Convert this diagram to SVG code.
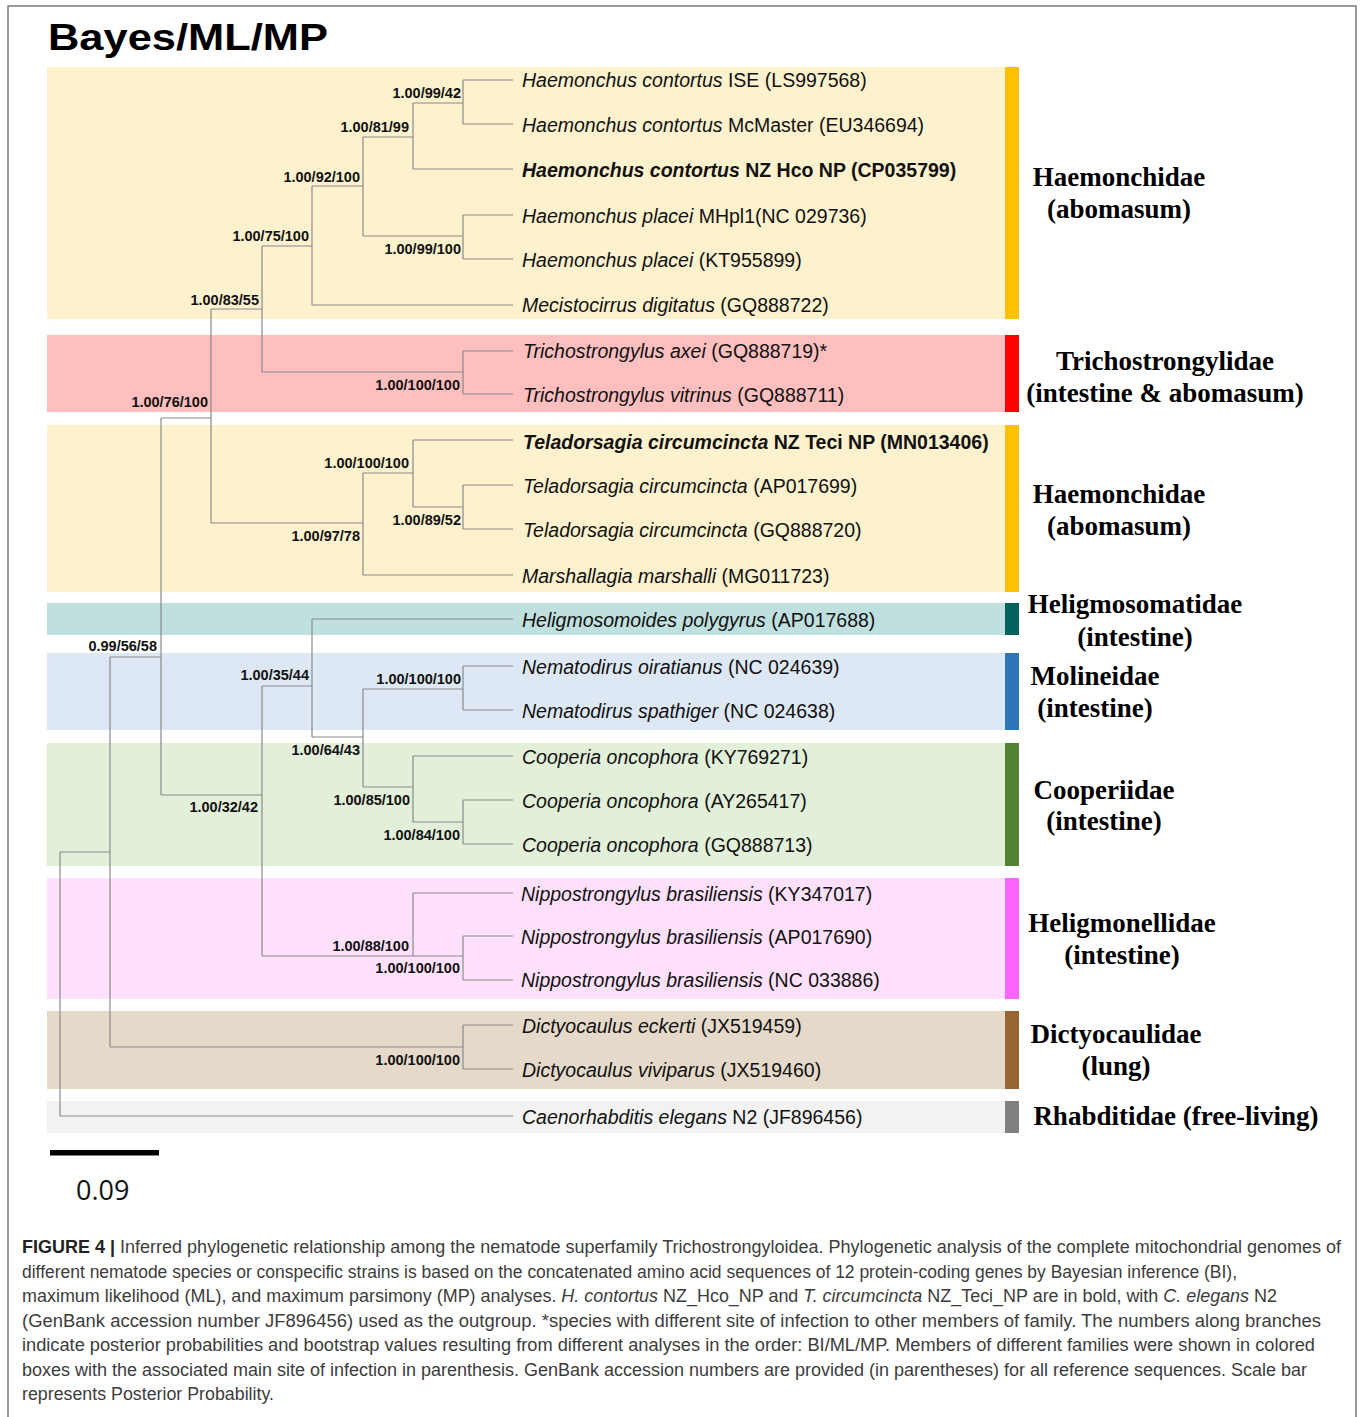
<svg xmlns="http://www.w3.org/2000/svg" width="1360" height="1417" viewBox="0 0 1360 1417">
<style>
.box{stroke:none}
.tree{fill:none;stroke:#8a8a8a;stroke-width:1.2}
.tax{font-family:"Liberation Sans",Arial,sans-serif;font-size:19.5px;fill:#111}
.it{font-style:italic}
.bd{font-weight:bold}
.nl{font-family:"Liberation Sans",Arial,sans-serif;font-size:14.5px;font-weight:bold;fill:#111;text-anchor:end}
.fam{font-family:"Liberation Serif","Times New Roman",serif;font-size:27px;font-weight:bold;fill:#000;text-anchor:middle}
.cap{font-family:"Liberation Sans",Arial,sans-serif;font-size:17.5px;fill:#3c3c3c}
</style>
<rect x="0" y="0" width="1360" height="1417" fill="#ffffff"/>
<rect x="8" y="6" width="1348" height="1430" fill="none" stroke="#7a7a7a" stroke-width="1.5"/>
<text x="48" y="50" font-family="Liberation Sans,Arial,sans-serif" font-size="37" font-weight="bold" fill="#000" textLength="280" lengthAdjust="spacingAndGlyphs">Bayes/ML/MP</text>

<g id="haemonchidae-1">
<rect class="box" x="47" y="67" width="958" height="252" fill="#FEF1CD"/>
<rect class="box" x="1005" y="67" width="14" height="252" fill="#FFC000"/>
<text class="fam" x="1119" y="186">Haemonchidae</text>
<text class="fam" x="1119" y="218">(abomasum)</text>
</g>
<g id="trichostrongylidae">
<rect class="box" x="47" y="335" width="958" height="77" fill="#FFBFBF"/>
<rect class="box" x="1005" y="335" width="14" height="77" fill="#FF0000"/>
<text class="fam" x="1165" y="370">Trichostrongylidae</text>
<text class="fam" x="1165" y="402">(intestine &amp; abomasum)</text>
</g>
<g id="haemonchidae-2">
<rect class="box" x="47" y="425" width="958" height="167" fill="#FEF1CD"/>
<rect class="box" x="1005" y="425" width="14" height="167" fill="#FFC000"/>
<text class="fam" x="1119" y="503">Haemonchidae</text>
<text class="fam" x="1119" y="535">(abomasum)</text>
</g>
<g id="heligmosomatidae">
<rect class="box" x="47" y="603" width="958" height="32" fill="#BFE0DE"/>
<rect class="box" x="1005" y="603" width="14" height="32" fill="#00625A"/>
<text class="fam" x="1135" y="613">Heligmosomatidae</text>
<text class="fam" x="1135" y="646">(intestine)</text>
</g>
<g id="molineidae">
<rect class="box" x="47" y="653" width="958" height="77" fill="#DDE8F4"/>
<rect class="box" x="1005" y="653" width="14" height="77" fill="#2E75B6"/>
<text class="fam" x="1095" y="685">Molineidae</text>
<text class="fam" x="1095" y="717">(intestine)</text>
</g>
<g id="cooperiidae">
<rect class="box" x="47" y="743" width="958" height="123" fill="#E2EFD9"/>
<rect class="box" x="1005" y="743" width="14" height="123" fill="#548235"/>
<text class="fam" x="1104" y="799">Cooperiidae</text>
<text class="fam" x="1104" y="830">(intestine)</text>
</g>
<g id="heligmonellidae">
<rect class="box" x="47" y="878" width="958" height="121" fill="#FFE1FD"/>
<rect class="box" x="1005" y="878" width="14" height="121" fill="#FF66FF"/>
<text class="fam" x="1122" y="932">Heligmonellidae</text>
<text class="fam" x="1122" y="964">(intestine)</text>
</g>
<g id="dictyocaulidae">
<rect class="box" x="47" y="1011" width="958" height="78" fill="#E5D9CA"/>
<rect class="box" x="1005" y="1011" width="14" height="78" fill="#996633"/>
<text class="fam" x="1116" y="1043">Dictyocaulidae</text>
<text class="fam" x="1116" y="1075">(lung)</text>
</g>
<g id="rhabditidae">
<rect class="box" x="47" y="1101" width="958" height="32" fill="#F2F2F2"/>
<rect class="box" x="1005" y="1101" width="14" height="32" fill="#808080"/>
<text class="fam" x="1176" y="1125">Rhabditidae (free-living)</text>
</g>

<g id="connectors" class="tree">
<path d="M463 80H513M463 124H513M413 169H513M463 215H513M463 259H513M312 305H513M463 351H513M463 394H513M413 440H513M463 485H513M463 529H513M363 575H513M312 619H513M463 666H513M463 710H513M413 756H513M463 800H513M463 844H513M413 893H513M463 936H513M463 980H513M463 1025H513M463 1069H513M60 1116H513"/>
<path d="M463 80V124M413 103H463M413 103V169M363 137H413M463 215V259M363 236H463M363 137V236M312 186H363M312 186V305M262 246H312M463 351V394M262 372H463M262 246V372M211 309H262"/>
<path d="M463 485V529M413 507H463M413 440V507M363 473H413M363 473V575M211 523H363M211 309V523M161 418H211"/>
<path d="M463 666V710M363 689H463M463 800V844M413 822H463M413 756V822M363 787H413M363 689V787M312 737H363M312 619V737M262 686H312"/>
<path d="M463 936V980M262 956H463M413 893V956M262 686V956M161 795H262M161 418V795M110 657H161"/>
<path d="M463 1025V1069M110 1047H463M110 657V1047M60 852H110M60 852V1116"/>
</g>

<g id="node-labels">
<text class="nl" x="461" y="98">1.00/99/42</text>
<text class="nl" x="409" y="132">1.00/81/99</text>
<text class="nl" x="360" y="182">1.00/92/100</text>
<text class="nl" x="461" y="254">1.00/99/100</text>
<text class="nl" x="309" y="241">1.00/75/100</text>
<text class="nl" x="259" y="305">1.00/83/55</text>
<text class="nl" x="460" y="390">1.00/100/100</text>
<text class="nl" x="208" y="407">1.00/76/100</text>
<text class="nl" x="409" y="468">1.00/100/100</text>
<text class="nl" x="461" y="525">1.00/89/52</text>
<text class="nl" x="360" y="541">1.00/97/78</text>
<text class="nl" x="157" y="651">0.99/56/58</text>
<text class="nl" x="309" y="680">1.00/35/44</text>
<text class="nl" x="461" y="684">1.00/100/100</text>
<text class="nl" x="360" y="755">1.00/64/43</text>
<text class="nl" x="258" y="812">1.00/32/42</text>
<text class="nl" x="410" y="805">1.00/85/100</text>
<text class="nl" x="460" y="840">1.00/84/100</text>
<text class="nl" x="409" y="951">1.00/88/100</text>
<text class="nl" x="460" y="973">1.00/100/100</text>
<text class="nl" x="460" y="1065">1.00/100/100</text>
</g>

<g id="taxa">
<text id="t1" class="tax" x="522" y="87"><tspan class="it">Haemonchus contortus</tspan> ISE (LS997568)</text>
<text id="t2" class="tax" x="522" y="131.5"><tspan class="it">Haemonchus contortus</tspan> McMaster (EU346694)</text>
<text id="t3" class="tax bd" x="522" y="176.5"><tspan class="it">Haemonchus contortus</tspan> NZ Hco NP (CP035799)</text>
<text id="t4" class="tax" x="522" y="222.5"><tspan class="it">Haemonchus placei</tspan> MHpl1(NC 029736)</text>
<text id="t5" class="tax" x="522" y="266.5"><tspan class="it">Haemonchus placei</tspan> (KT955899)</text>
<text id="t6" class="tax" x="522" y="312"><tspan class="it">Mecistocirrus digitatus</tspan> (GQ888722)</text>
<text id="t7" class="tax" x="523" y="358"><tspan class="it">Trichostrongylus axei</tspan> (GQ888719)*</text>
<text id="t8" class="tax" x="523" y="402"><tspan class="it">Trichostrongylus vitrinus</tspan> (GQ888711)</text>
<text id="t9" class="tax bd" x="523" y="449"><tspan class="it">Teladorsagia circumcincta</tspan> NZ Teci NP (MN013406)</text>
<text id="t10" class="tax" x="523" y="493"><tspan class="it">Teladorsagia circumcincta</tspan> (AP017699)</text>
<text id="t11" class="tax" x="523" y="537"><tspan class="it">Teladorsagia circumcincta</tspan> (GQ888720)</text>
<text id="t12" class="tax" x="522" y="582.5"><tspan class="it">Marshallagia marshalli</tspan> (MG011723)</text>
<text id="t13" class="tax" x="522" y="627"><tspan class="it">Heligmosomoides polygyrus</tspan> (AP017688)</text>
<text id="t14" class="tax" x="522" y="674"><tspan class="it">Nematodirus oiratianus</tspan> (NC 024639)</text>
<text id="t15" class="tax" x="522" y="717.5"><tspan class="it">Nematodirus spathiger</tspan> (NC 024638)</text>
<text id="t16" class="tax" x="522" y="763.5"><tspan class="it">Cooperia oncophora</tspan> (KY769271)</text>
<text id="t17" class="tax" x="522" y="807.5"><tspan class="it">Cooperia oncophora</tspan> (AY265417)</text>
<text id="t18" class="tax" x="522" y="852"><tspan class="it">Cooperia oncophora</tspan> (GQ888713)</text>
<text id="t19" class="tax" x="521" y="900.5"><tspan class="it">Nippostrongylus brasiliensis</tspan> (KY347017)</text>
<text id="t20" class="tax" x="521" y="943.5"><tspan class="it">Nippostrongylus brasiliensis</tspan> (AP017690)</text>
<text id="t21" class="tax" x="521" y="987"><tspan class="it">Nippostrongylus brasiliensis</tspan> (NC 033886)</text>
<text id="t22" class="tax" x="522" y="1032.5"><tspan class="it">Dictyocaulus eckerti</tspan> (JX519459)</text>
<text id="t23" class="tax" x="522" y="1077"><tspan class="it">Dictyocaulus viviparus</tspan> (JX519460)</text>
<text id="t24" class="tax" x="522" y="1124"><tspan class="it">Caenorhabditis elegans</tspan> N2 (JF896456)</text>
</g>

<g id="scale-bar">
<rect x="50" y="1150" width="109" height="5.5" fill="#000"/>
<text x="76" y="1200" font-family="Open Sans,Liberation Sans,sans-serif" font-size="27" fill="#111">0.09</text>
</g>

<g id="caption">
<text class="cap" x="22" y="1253" textLength="1319" lengthAdjust="spacingAndGlyphs"><tspan font-weight="bold" fill="#222">FIGURE 4 |</tspan> Inferred phylogenetic relationship among the nematode superfamily Trichostrongyloidea. Phylogenetic analysis of the complete mitochondrial genomes of</text>
<text class="cap" x="22" y="1278" textLength="1215" lengthAdjust="spacingAndGlyphs">different nematode species or conspecific strains is based on the concatenated amino acid sequences of 12 protein-coding genes by Bayesian inference (BI),</text>
<text class="cap" x="22" y="1302" textLength="1255" lengthAdjust="spacingAndGlyphs">maximum likelihood (ML), and maximum parsimony (MP) analyses. <tspan class="it">H. contortus</tspan> NZ_Hco_NP and <tspan class="it">T. circumcincta</tspan> NZ_Teci_NP are in bold, with <tspan class="it">C. elegans</tspan> N2</text>
<text class="cap" x="22" y="1327" textLength="1299" lengthAdjust="spacingAndGlyphs">(GenBank accession number JF896456) used as the outgroup. *species with different site of infection to other members of family. The numbers along branches</text>
<text class="cap" x="22" y="1351" textLength="1293" lengthAdjust="spacingAndGlyphs">indicate posterior probabilities and bootstrap values resulting from different analyses in the order: BI/ML/MP. Members of different families were shown in colored</text>
<text class="cap" x="22" y="1376" textLength="1285" lengthAdjust="spacingAndGlyphs">boxes with the associated main site of infection in parenthesis. GenBank accession numbers are provided (in parentheses) for all reference sequences. Scale bar</text>
<text class="cap" x="22" y="1400" textLength="252" lengthAdjust="spacingAndGlyphs">represents Posterior Probability.</text>
</g>
</svg>
